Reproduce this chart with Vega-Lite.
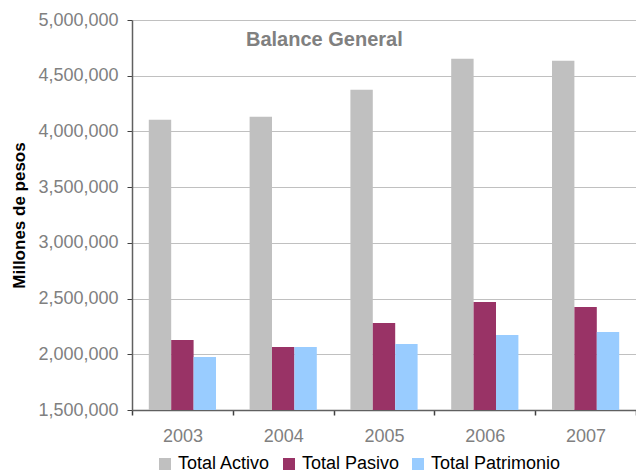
{
  "$schema": "https://vega.github.io/schema/vega-lite/v6.json",
  "autosize": {"type": "none"},
  "width": 504,
  "height": 390,
  "padding": {"left": 132, "top": 20, "right": 0, "bottom": 63},
  "background": "white",
  "config": {
    "font": "Liberation Sans",
    "view": {"stroke": null},
    "axis": {"labelFont": "Liberation Sans", "titleFont": "Liberation Sans"}
  },
  "title": {
    "text": "Balance General",
    "frame": "group",
    "anchor": "start",
    "orient": "top",
    "dx": 114,
    "dy": 55,
    "offset": 0,
    "baseline": "alphabetic",
    "fontSize": 20,
    "fontWeight": "bold",
    "color": "#808080",
    "font": "Liberation Sans"
  },
  "data": {
    "values": [
      {"year": "2003", "serie": "Total Activo", "valor": 4105000},
      {"year": "2003", "serie": "Total Pasivo", "valor": 2128000},
      {"year": "2003", "serie": "Total Patrimonio", "valor": 1976000},
      {"year": "2004", "serie": "Total Activo", "valor": 4132000},
      {"year": "2004", "serie": "Total Pasivo", "valor": 2065000},
      {"year": "2004", "serie": "Total Patrimonio", "valor": 2066000},
      {"year": "2005", "serie": "Total Activo", "valor": 4375000},
      {"year": "2005", "serie": "Total Pasivo", "valor": 2281000},
      {"year": "2005", "serie": "Total Patrimonio", "valor": 2092000},
      {"year": "2006", "serie": "Total Activo", "valor": 4653000},
      {"year": "2006", "serie": "Total Pasivo", "valor": 2469000},
      {"year": "2006", "serie": "Total Patrimonio", "valor": 2173000},
      {"year": "2007", "serie": "Total Activo", "valor": 4635000},
      {"year": "2007", "serie": "Total Pasivo", "valor": 2424000},
      {"year": "2007", "serie": "Total Patrimonio", "valor": 2200000}
    ]
  },
  "mark": {"type": "bar", "clip": true},
  "encoding": {
    "x": {
      "field": "year",
      "type": "nominal",
      "scale": {"paddingInner": 0, "paddingOuter": 0},
      "axis": {
        "title": null,
        "labelAngle": 0,
        "labelFontSize": 18,
        "labelColor": "#808080",
        "labelPadding": 12,
        "tickBand": "extent",
        "ticks": true,
        "tickSize": 5,
        "tickWidth": 1.5,
        "tickColor": "#404040",
        "domainColor": "#606060",
        "domainWidth": 1.5,
        "grid": false
      }
    },
    "xOffset": {
      "field": "serie",
      "type": "nominal",
      "sort": ["Total Activo", "Total Pasivo", "Total Patrimonio"],
      "scale": {"paddingInner": 0, "paddingOuter": 0.75}
    },
    "y": {
      "field": "valor",
      "type": "quantitative",
      "scale": {"domain": [1500000, 5000000], "zero": false, "nice": false},
      "axis": {
        "title": "Millones de pesos",
        "titleFontSize": 17,
        "titleFontWeight": "bold",
        "titleColor": "#000000",
        "titlePadding": 9,
        "values": [1500000, 2000000, 2500000, 3000000, 3500000, 4000000, 4500000, 5000000],
        "format": ",d",
        "labelFontSize": 18,
        "labelColor": "#808080",
        "labelPadding": 9,
        "tickSize": 5,
        "tickColor": "#404040",
        "domainColor": "#606060",
        "domainWidth": 1.5,
        "gridColor": "#c0c0c0",
        "gridWidth": 1
      }
    },
    "color": {
      "field": "serie",
      "type": "nominal",
      "sort": ["Total Activo", "Total Pasivo", "Total Patrimonio"],
      "scale": {
        "domain": ["Total Activo", "Total Pasivo", "Total Patrimonio"],
        "range": ["#c0c0c0", "#993366", "#99ccff"]
      },
      "legend": {
        "title": null,
        "orient": "none",
        "direction": "horizontal",
        "legendX": 24,
        "legendY": 435,
        "padding": 0,
        "symbolType": "square",
        "symbolSize": 144,
        "symbolStrokeWidth": 0,
        "labelFontSize": 18,
        "labelColor": "#000000",
        "labelOffset": 4,
        "columnPadding": 9
      }
    }
  }
}
